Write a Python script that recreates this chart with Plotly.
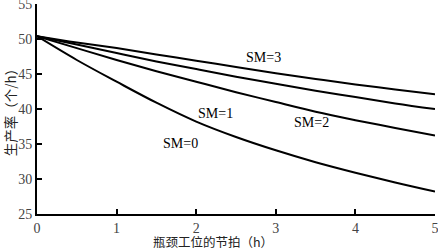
import plotly.graph_objects as go

x = [0, 0.5, 1, 1.5, 2, 2.5, 3, 3.5, 4, 4.5, 5]
sm3 = [50.4, 49.5, 48.7, 47.8, 46.9, 46.0, 45.1, 44.3, 43.5, 42.8, 42.1]
sm2 = [50.4, 49.2, 48.0, 46.8, 45.7, 44.6, 43.6, 42.6, 41.7, 40.8, 40.0]
sm1 = [50.4, 48.7, 47.0, 45.4, 43.9, 42.4, 41.0, 39.6, 38.4, 37.3, 36.2]
sm0 = [50.4, 47.0, 43.9, 40.9, 38.2, 36.0, 34.1, 32.4, 30.9, 29.5, 28.2]

labels = ["SM=3", "SM=2", "SM=1", "SM=0"]
label_x = [2.84, 3.45, 2.24, 1.80]
label_y = [47.4, 38.1, 39.3, 35.1]

x_ticks = [0, 1, 2, 3, 4, 5]
y_ticks = [25, 30, 35, 40, 45, 50, 55]

x_title = "瓶颈工位的节拍（h）"
y_title = "生产率（个/h）"

serif = "Liberation Serif"
cjk = "Noto Sans CJK SC"

fig = go.Figure()
for ys in [sm3, sm2, sm1, sm0]:
    fig.add_trace(go.Scatter(x=x, y=ys, mode="lines", line=dict(color="black", width=2, shape="spline"),
                             showlegend=False, hoverinfo="skip", cliponaxis=False))

for t, lx, ly in zip(labels, label_x, label_y):
    fig.add_annotation(x=lx, y=ly, text=t, showarrow=False, xref="x", yref="y",
                       font=dict(family=serif, size=14, color="black"))

fig.add_annotation(x=(213 - 37) / (435 - 37), y=-(241 - 214) / (214 - 4), xref="paper", yref="paper",
                   xanchor="center", yanchor="middle", text=x_title, showarrow=False,
                   font=dict(family=cjk, size=12.5, color="#222"))

fig.update_layout(
    width=438, height=250,
    margin=dict(l=37, r=3, t=4, b=36),
    plot_bgcolor="white", paper_bgcolor="white",
    xaxis=dict(range=[0, 5], tickvals=x_ticks, ticks="inside", ticklen=5, tickwidth=1.5, tickcolor="black",
               showline=True, linecolor="black", linewidth=2, showgrid=False, zeroline=False,
               ticklabeloverflow="allow", automargin=False,
               tickfont=dict(family=serif, size=14, color="#444")),
    yaxis=dict(range=[25, 55], tickvals=y_ticks, ticks="inside", ticklen=5, tickwidth=1.5, tickcolor="black",
               showline=True, linecolor="black", linewidth=2, showgrid=False, zeroline=False,
               ticklabeloverflow="allow", automargin=False,
               tickfont=dict(family=serif, size=14, color="#444"),
               title=dict(text=y_title, font=dict(family=cjk, size=13.5, color="#222"), standoff=4)),
)

fig.write_html("out.html")
